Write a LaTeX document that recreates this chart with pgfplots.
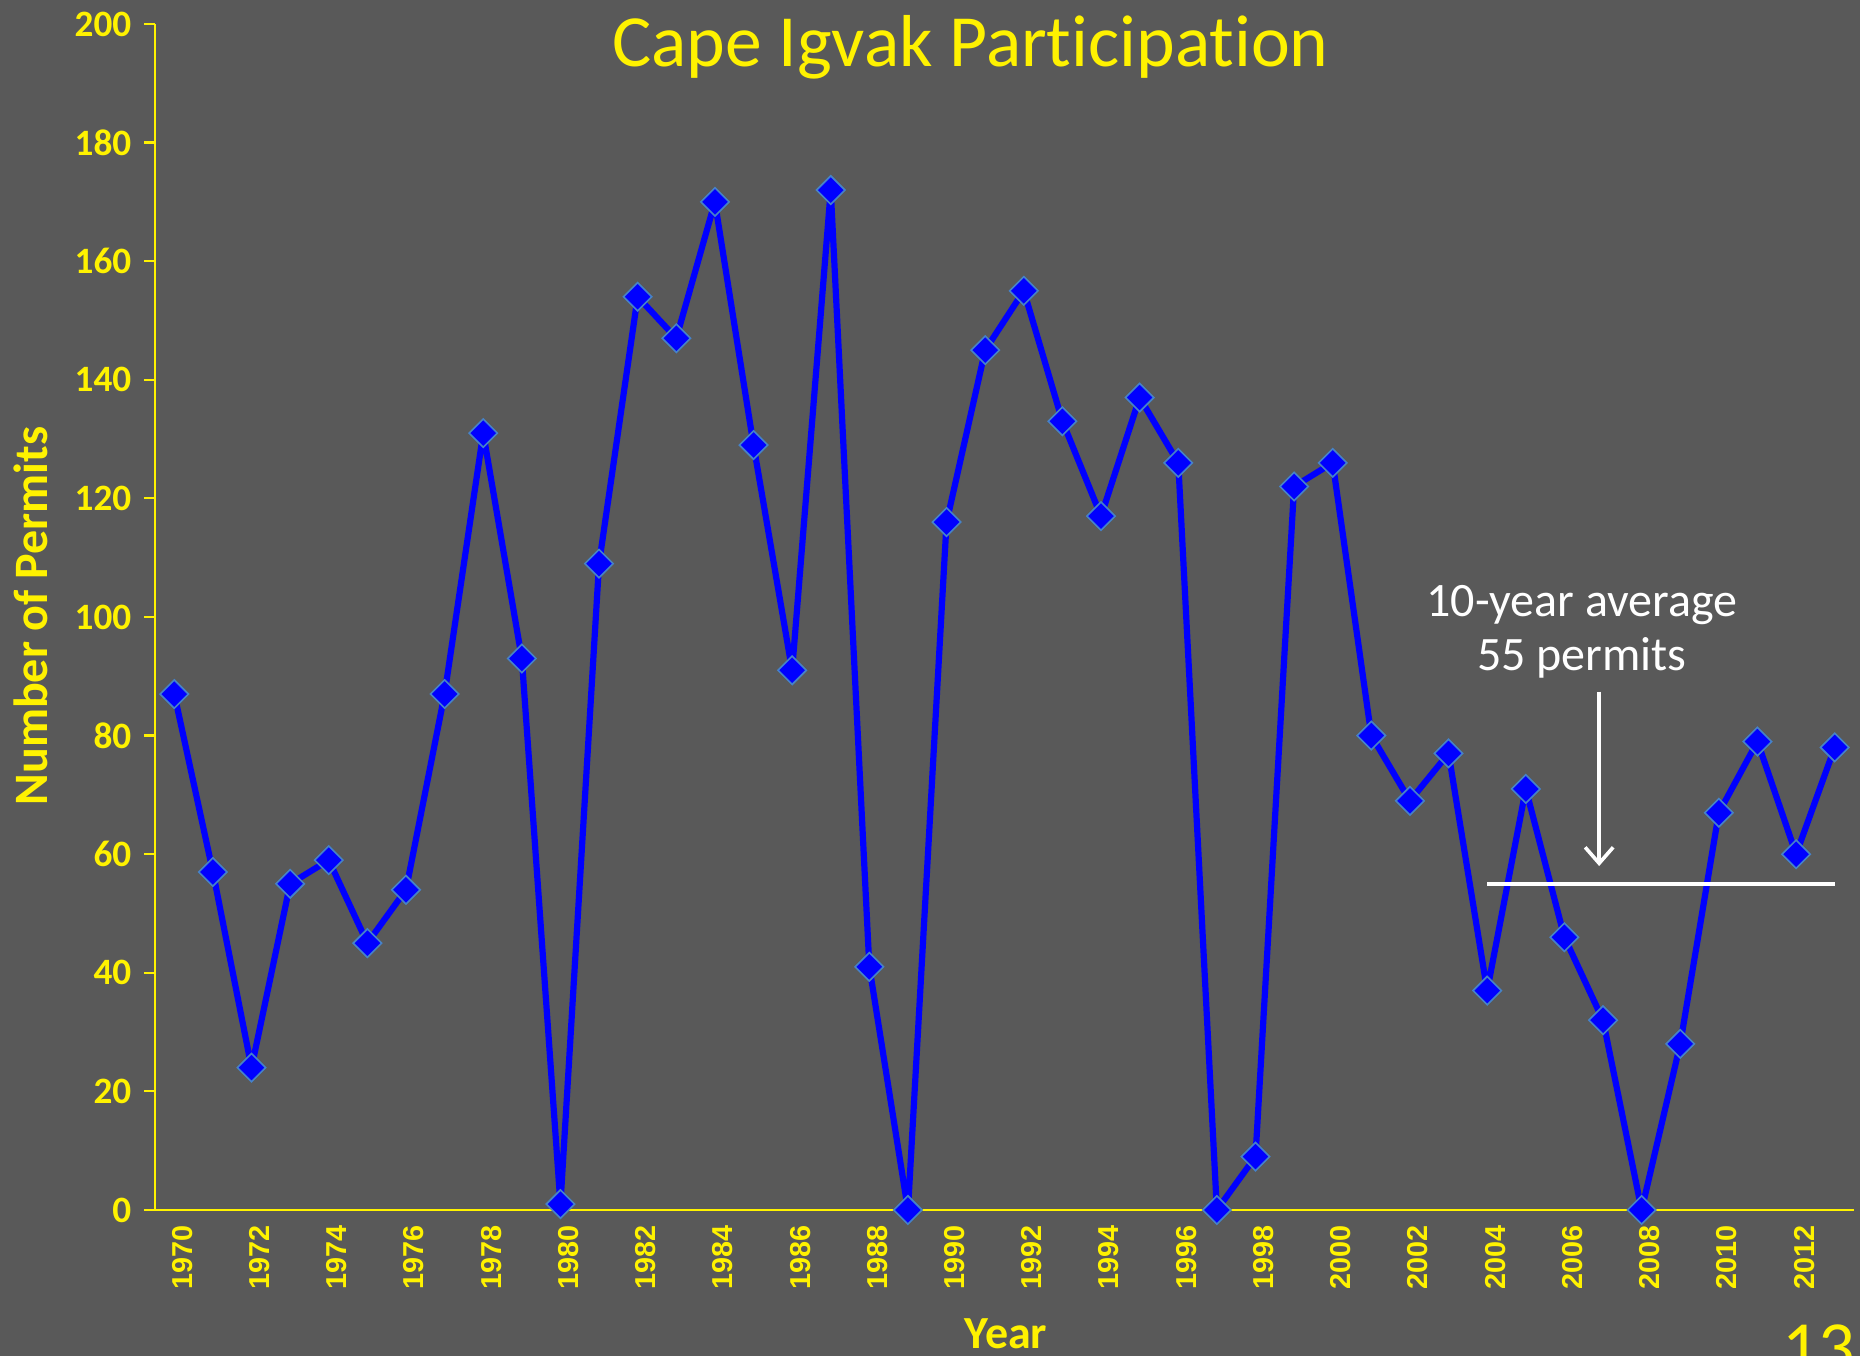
\documentclass[border=0pt]{standalone}
\usepackage{pgfplots}
\pgfplotsset{compat=1.18}
\usepackage{fontspec}
\setmainfont{Carlito}[RawFeature={-liga;-clig;-calt;-dlig}]
\newfontfamily\xlab{Liberation Sans}
\usetikzlibrary{arrows.meta}
\definecolor{bg}{RGB}{89,89,89}
\definecolor{mk}{RGB}{70,130,200}
\begin{document}
\begin{tikzpicture}
\clip (0,0) rectangle (465pt,339pt);
\fill[bg] (0,0) rectangle (465pt,339pt);
\begin{axis}[
  at={(38.75pt,36.5pt)}, anchor=south west,
  width=424.75pt, height=296.5pt, scale only axis,
  xmin=1969.5, xmax=2013.5, ymin=0, ymax=200,
  axis x line*=bottom, axis y line*=left,
  axis line style={yellow, line width=0.55pt, -},
  clip=false,
  tick align=outside,
  ytick={0,20,...,200},
  yticklabels={0,20,40,60,80,100,120,140,160,180,200},
  major tick length=2.75pt,
  ytick style={yellow, line width=0.55pt},
  yticklabel style={yellow, font=\fontsize{9.3}{9.3}\selectfont\bfseries, inner sep=1pt, xshift=-2pt},
  xtick={1970,1972,...,2012},
  xticklabels={1970,1972,1974,1976,1978,1980,1982,1984,1986,1988,1990,1992,1994,1996,1998,2000,2002,2004,2006,2008,2010,2012},
  xtick style={draw=none},
  minor xtick={1969.5,1970.5,...,2013.5},
  minor x tick style={yellow, line width=0.55pt},
  minor tick length=2.6pt,
  xticklabel style={yellow, rotate=90, anchor=east, font=\xlab\fontsize{7.2}{7.2}\selectfont\bfseries, inner sep=1pt, yshift=-2pt},
]
\addplot[blue, line width=1.55pt, line join=round, mark=square*, mark size=2.5pt,
  mark options={fill=blue, draw=mk, line width=0.4pt, rotate=45, line join=miter}]
coordinates {
(1970,87) (1971,57) (1972,24) (1973,55) (1974,59) (1975,45) (1976,54) (1977,87)
(1978,131) (1979,93) (1980,1) (1981,109) (1982,154) (1983,147) (1984,170) (1985,129)
(1986,91) (1987,172) (1988,41) (1989,0) (1990,116) (1991,145) (1992,155) (1993,133)
(1994,117) (1995,137) (1996,126) (1997,0) (1998,9) (1999,122) (2000,126) (2001,80)
(2002,69) (2003,77) (2004,37) (2005,71) (2006,46) (2007,32) (2008,0) (2009,28)
(2010,67) (2011,79) (2012,60) (2013,78)
};
\addplot[white, line width=0.85pt] coordinates {(2004,55) (2013,55)};
\draw[white, line width=0.9pt, -{Straight Barb[length=4pt,width=7pt,line width=0.9pt]}] (axis cs:2006.9,87.4) -- (axis cs:2006.9,58);
\node[white, align=center, font=\fontsize{12}{13.3}\selectfont] at (axis cs:2006.45,97.5) {10-year average\\55 permits};
\end{axis}
\node[yellow, font=\fontsize{18.4}{18.4}\selectfont] at (242.6pt,327.25pt) {Cape Igvak Part\kern0pt icipat\kern0pt ion};
\node[yellow, rotate=90, font=\fontsize{12}{12}\selectfont\bfseries] at (7.6pt,185pt) {Number of Permits};
\node[yellow, font=\fontsize{11.5}{11.5}\selectfont\bfseries] at (251.5pt,5.5pt) {Year};
\node[yellow, anchor=base east, font=\fontsize{18}{18}\selectfont, inner sep=0pt] at (464pt,-4pt) {13};
\end{tikzpicture}
\end{document}
